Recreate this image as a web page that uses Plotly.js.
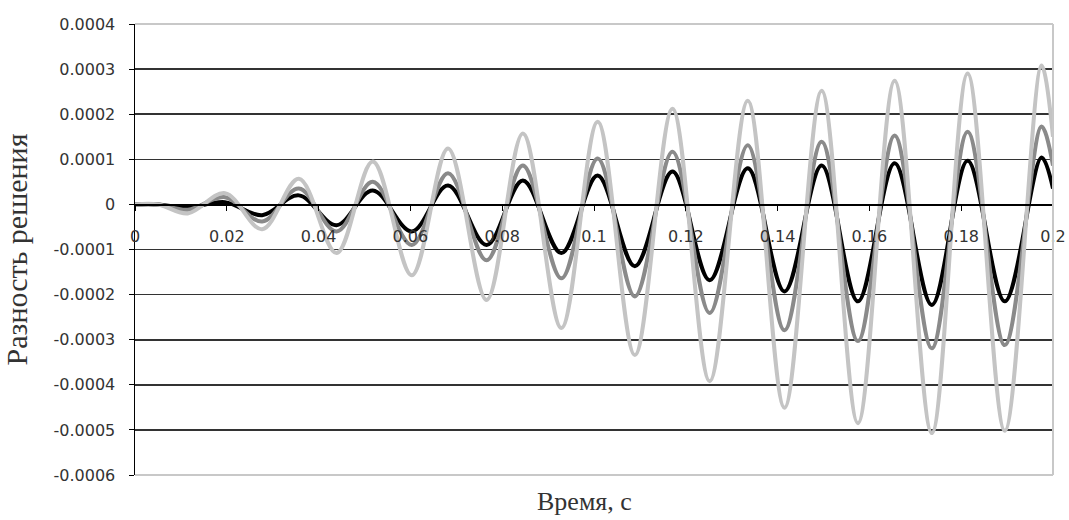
<!DOCTYPE html>
<html>
<head>
<meta charset="utf-8">
<script src="https://cdn.plot.ly/plotly-3.0.1.min.js"></script>
<style>html,body{margin:0;padding:0;background:#fff;}#chart{width:1069px;height:520px;}</style>
</head>
<body>
<div id="chart"></div>
<script>
// Time points (s) read at the extrema of the oscillations
const time = [0, 0.005, 0.0115, 0.0196, 0.0277, 0.0357, 0.0439, 0.0518, 0.0603, 0.0682, 0.0766, 0.0845, 0.0929, 0.1008, 0.1089, 0.1171, 0.1252, 0.1335, 0.1415, 0.1496, 0.1575, 0.1655, 0.1736, 0.1814, 0.1895, 0.1975, 0.2];

// Series values
const seriesBlack = [0, 0, -0.000007, 0.000005, -0.000024, 0.00002, -0.000046, 0.000031, -0.00006, 0.000042, -0.00009, 0.000053, -0.000108, 0.000064, -0.000137, 0.000073, -0.000168, 0.00008, -0.000193, 0.000086, -0.000215, 0.000091, -0.000223, 0.000097, -0.000215, 0.000104, 0.000035];
const seriesDark = [0, 0, -0.000012, 0.000016, -0.000038, 0.000035, -0.00006, 0.00005, -0.00009, 0.000069, -0.000124, 0.000086, -0.000164, 0.000102, -0.000204, 0.000117, -0.000241, 0.000131, -0.000279, 0.000139, -0.000303, 0.000153, -0.000319, 0.000161, -0.000312, 0.000173, 0.000086];
const seriesLight = [0, 0, -0.00002, 0.000025, -0.000055, 0.000057, -0.000108, 0.000095, -0.000157, 0.000124, -0.000212, 0.000157, -0.000274, 0.000183, -0.000334, 0.000212, -0.000392, 0.00023, -0.000451, 0.000252, -0.000485, 0.000274, -0.000507, 0.00029, -0.000502, 0.000308, 0.00015];

// Tick labels
const xTickVals = [0, 0.02, 0.04, 0.06, 0.08, 0.1, 0.12, 0.14, 0.16, 0.18, 0.2];
const xTickText = ["0", "0.02", "0.04", "0.06", "0.08", "0.1", "0.12", "0.14", "0.16", "0.18", "0.2"];
const yTickVals = [0.0004, 0.0003, 0.0002, 0.0001, 0, -0.0001, -0.0002, -0.0003, -0.0004, -0.0005, -0.0006];
const yTickText = ["0.0004", "0.0003", "0.0002", "0.0001", "0", "-0.0001", "-0.0002", "-0.0003", "-0.0004", "-0.0005", "-0.0006"];

const xTitle = "Время, с";
const yTitle = "Разность решения";

function tr(y, color) {
  return {
    x: time, y: y, type: 'scatter', mode: 'lines',
    line: {color: color, width: 4, shape: 'spline', smoothing: 1},
    hoverinfo: 'skip', showlegend: false
  };
}

const data = [
  tr(seriesBlack, '#000000'),
  tr(seriesDark, '#8a8a8a'),
  tr(seriesLight, '#c4c4c4')
];

const tickFont = {family: 'DejaVu Sans, Arial, sans-serif', size: 16, color: '#333333'};

const layout = {
  width: 1069, height: 520,
  margin: {l: 135, r: 16, t: 24, b: 45, pad: 0},
  paper_bgcolor: '#ffffff', plot_bgcolor: '#ffffff',
  showlegend: false,
  xaxis: {
    range: [0, 0.2],
    anchor: 'free', position: 0.6,
    tickvals: xTickVals, ticktext: xTickText,
    showgrid: false, zeroline: false,
    showline: true, linecolor: '#000000', linewidth: 1.5,
    ticks: 'outside', ticklen: 5, tickwidth: 1, tickcolor: '#000000',
    ticklabelstandoff: 12,
    tickfont: tickFont
  },
  yaxis: {
    range: [-0.0006, 0.0004],
    tickvals: yTickVals, ticktext: yTickText,
    showgrid: true, gridcolor: '#333333', gridwidth: 1.6,
    zeroline: false,
    showline: true, linecolor: '#000000', linewidth: 1.5,
    ticks: 'outside', ticklen: 5, tickwidth: 1, tickcolor: '#000000',
    ticklabelstandoff: 10,
    tickfont: tickFont,
    title: {text: yTitle, standoff: 18, font: {family: 'Liberation Serif, Times New Roman, serif', size: 30, color: '#333333'}}
  },
  shapes: [
    {type: 'line', xref: 'paper', yref: 'paper', x0: 0, x1: 1, y0: 1, y1: 1, line: {color: '#c8c8c8', width: 2}, layer: 'above'},
    {type: 'line', xref: 'paper', yref: 'paper', x0: 0, x1: 1, y0: 0, y1: 0, line: {color: '#c8c8c8', width: 2}, layer: 'above'},
    {type: 'line', xref: 'paper', yref: 'paper', x0: 1, x1: 1, y0: 0, y1: 1, line: {color: '#c8c8c8', width: 2}, layer: 'above'}
  ],
  annotations: [
    {text: xTitle, xref: 'paper', yref: 'paper', x: 0.49, y: -0.058, xanchor: 'center', yanchor: 'middle', showarrow: false,
     font: {family: 'Liberation Serif, Times New Roman, serif', size: 26, color: '#333333'}}
  ]
};

Plotly.newPlot('chart', data, layout, {displayModeBar: false, staticPlot: true});
</script>
</body>
</html>
